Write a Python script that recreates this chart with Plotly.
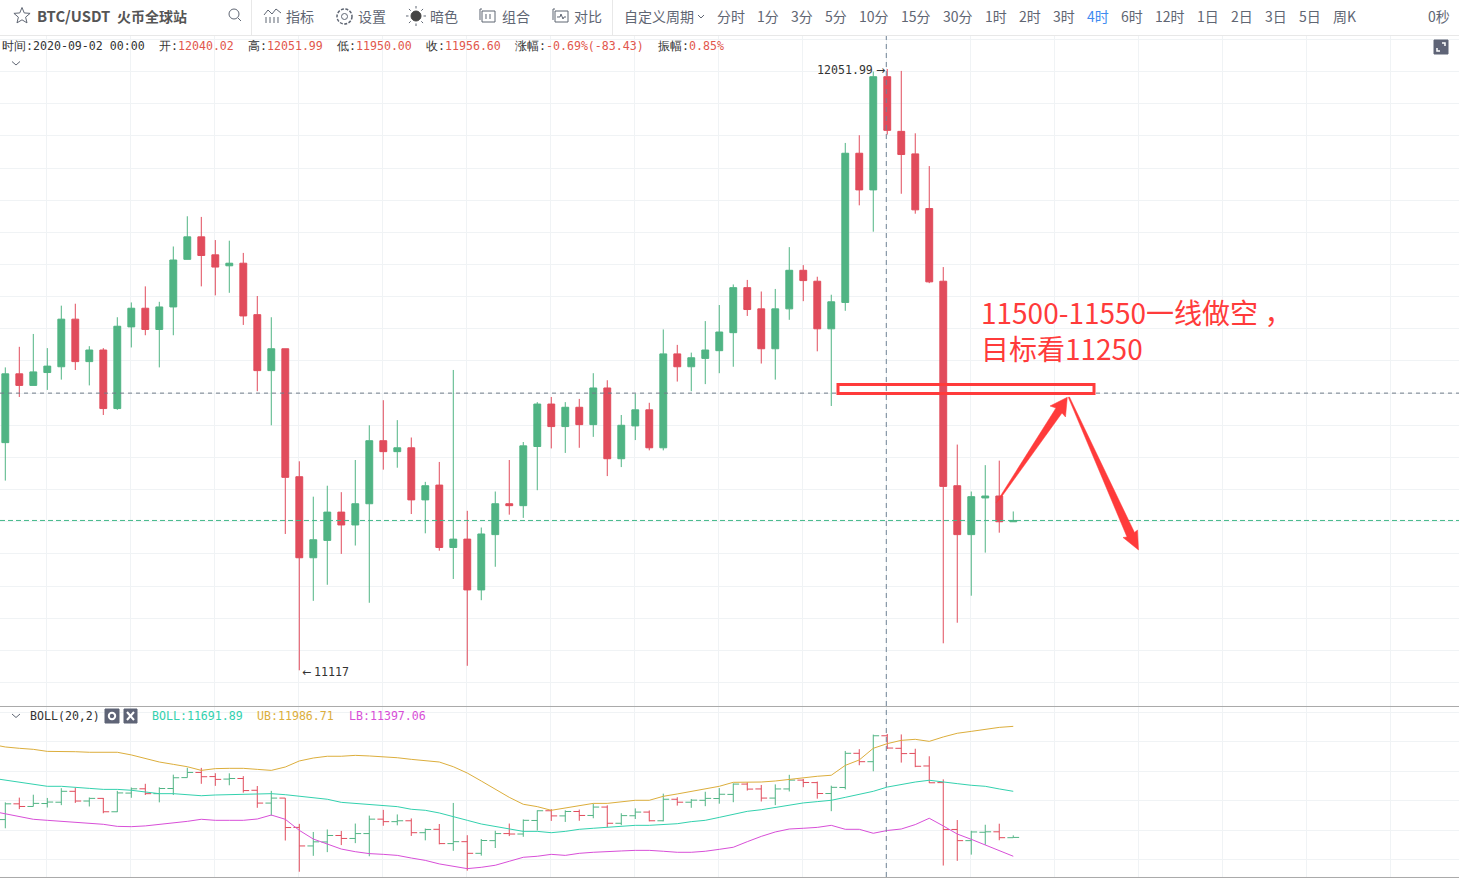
import math
import plotly.graph_objects as go
from plotly.subplots import make_subplots

W, H = 1459, 879

# candles, 4h bars
candle_idx = list(range(73))
opens = [11471, 11578, 11560, 11580, 11589, 11663, 11597, 11615, 11524, 11651, 11680, 11647, 11682, 11756, 11791, 11763, 11746, 11750, 11670, 11583,
         11617, 11418, 11292, 11319, 11363, 11343, 11376, 11474, 11457, 11463, 11382, 11405, 11308, 11321, 11242, 11328, 11376, 11373, 11465, 11531,
         11496, 11526, 11499, 11556, 11446, 11497, 11522, 11463, 11609, 11589, 11602, 11614, 11642, 11712, 11679, 11617, 11679, 11739, 11722, 11648,
         11689, 11921, 11864, 12040.02, 11955, 11920, 11835, 11722, 11404, 11328, 11385, 11388, 11348]
highs = [11588, 11620, 11640, 11618, 11684, 11687, 11621, 11618, 11666, 11689, 11714, 11690, 11776, 11823, 11822, 11786, 11785, 11766, 11699, 11666,
         11617, 11442, 11387, 11404, 11394, 11444, 11498, 11537, 11506, 11479, 11410, 11441, 11584, 11365, 11339, 11395, 11444, 11472, 11534, 11542,
         11534, 11539, 11579, 11568, 11514, 11547, 11533, 11647, 11623, 11611, 11660, 11685, 11717, 11724, 11706, 11710, 11775, 11747, 11729, 11701,
         11937, 11949, 12048, 12051.99, 12049, 11952, 11901, 11744, 11468, 11395, 11436, 11443, 11364]
lows = [11412, 11542, 11560, 11553, 11569, 11584, 11560, 11514, 11522, 11619, 11638, 11588, 11638, 11756, 11714, 11700, 11704, 11654, 11551, 11498,
        11329, 11117, 11225, 11250, 11298, 11311, 11222, 11429, 11432, 11360, 11330, 11303, 11259, 11124, 11226, 11278, 11359, 11354, 11397, 11462,
        11455, 11463, 11480, 11419, 11433, 11475, 11459, 11459, 11566, 11551, 11562, 11579, 11589, 11668, 11594, 11569, 11662, 11691, 11613, 11528,
        11676, 11840, 11799, 11950, 11858, 11827, 11719, 11159, 11191, 11233, 11300, 11331, 11348]
closes = [11578, 11560, 11581, 11590, 11663, 11597, 11615, 11524, 11652, 11680, 11647, 11682, 11755, 11791, 11762, 11744, 11750, 11668, 11583, 11617,
          11417, 11292, 11320, 11363, 11343, 11376, 11474, 11457, 11463, 11382, 11404, 11308, 11321, 11242, 11329, 11376, 11373, 11466, 11531, 11496,
          11526, 11499, 11556, 11446, 11498, 11522, 11463, 11609, 11589, 11603, 11615, 11643, 11712, 11678, 11617, 11679, 11739, 11723, 11648, 11690,
          11921, 11864, 12040, 11956.6, 11919, 11833, 11721, 11403, 11328, 11387, 11388, 11348, 11350]

# BOLL(20,2), these start one bar left of the window
boll_idx = list(range(-1, 73))
boll_mid = [11753, 11738, 11724, 11710, 11697, 11697, 11692, 11683, 11676, 11676, 11670, 11658, 11647, 11647, 11640, 11633, 11638, 11640, 11640, 11642, 11647,
            11640, 11629, 11618, 11609, 11588, 11581, 11572, 11566, 11559, 11541, 11534, 11516, 11493, 11466, 11441, 11425, 11405, 11391, 11391, 11382,
            11391, 11405, 11412, 11418, 11425, 11432, 11432, 11437, 11443, 11457, 11466, 11486, 11509, 11527, 11538, 11554, 11570, 11584, 11593, 11602,
            11622, 11642, 11663, 11691.89, 11710, 11726, 11738, 11724, 11715, 11704, 11697, 11679, 11663]
boll_up = [11982, 11964, 11955, 11948, 11934, 11934, 11932, 11928, 11928, 11928, 11910, 11885, 11862, 11846, 11830, 11805, 11817, 11819, 11819, 11812, 11805,
           11828, 11869, 11889, 11901, 11901, 11907, 11903, 11898, 11891, 11880, 11873, 11862, 11830, 11787, 11733, 11679, 11622, 11575, 11559, 11534,
           11550, 11563, 11581, 11581, 11593, 11602, 11602, 11629, 11645, 11663, 11681, 11697, 11724, 11724, 11726, 11733, 11744, 11758, 11765, 11772,
           11839, 11876, 11955, 11986.71, 12009, 12016, 12002, 12032, 12057, 12070, 12084, 12097, 12104]
boll_low = [11529, 11511, 11493, 11473, 11466, 11459, 11455, 11448, 11439, 11425, 11423, 11428, 11437, 11450, 11459, 11473, 11466, 11466, 11466, 11475, 11502,
            11473, 11398, 11339, 11305, 11271, 11253, 11240, 11235, 11228, 11210, 11194, 11170, 11154, 11138, 11147, 11161, 11188, 11215, 11222, 11235,
            11228, 11242, 11249, 11251, 11258, 11262, 11262, 11256, 11249, 11249, 11256, 11269, 11283, 11321, 11357, 11387, 11407, 11412, 11418, 11432,
            11405, 11405, 11378, 11397.06, 11407, 11437, 11480, 11428, 11373, 11337, 11298, 11260, 11222]

resistance_price = 11548
last_price = 11350
cross_idx = 62.93

toolbar_items = [("指标", 286), ("设置", 358), ("暗色", 430), ("组合", 502), ("对比", 574), ("自定义周期", 624)]
period_items = [("分时", 717), ("1分", 757), ("3分", 791), ("5分", 825), ("10分", 859), ("15分", 901), ("30分", 943), ("1时", 985), ("2时", 1019),
                ("3时", 1053), ("4时", 1087), ("6时", 1121), ("12时", 1155), ("1日", 1197), ("2日", 1231), ("3日", 1265), ("5日", 1299), ("周K", 1333), ("0秒", 1428)]
info_items = [("时间:", "2020-09-02 00:00", 2, "#333333"), ("开:", "12040.02", 159, "#e2574c"), ("高:", "12051.99", 248, "#e2574c"),
              ("低:", "11950.00", 337, "#e2574c"), ("收:", "11956.60", 426, "#e2574c"), ("涨幅:", "-0.69%(-83.43)", 515, "#e2574c"),
              ("振幅:", "0.85%", 658, "#e2574c")]

GREEN = "#50b484"
RED = "#e14c5c"
UI_GREY = "#5f6673"
ICON_BOX = "#5f6477"
MARK_RED = "#ff3b3b"
MONO = "DejaVu Sans Mono"
CJK = "Noto Sans CJK SC"


def px(x):
    return x / W


def py(y):
    return 1 - y / H


def path_shape(points, closed=False, fill=None, color=UI_GREY, width=1):
    d = "M " + " L ".join(f"{px(x):.5f},{py(y):.5f}" for x, y in points)
    if closed:
        d += " Z"
    return dict(type="path", xref="paper", yref="paper", path=d, fillcolor=fill,
                line=dict(color=color, width=width), layer="above")


def rect_shape(x0, y0, x1, y1, fill=None, color=UI_GREY, width=1):
    return dict(type="rect", xref="paper", yref="paper", x0=px(x0), x1=px(x1), y0=py(y0), y1=py(y1),
                fillcolor=fill, line=dict(color=color, width=width), layer="above")


def circle_shape(cx, cy, r, fill=None, color=UI_GREY, width=1, dash=None):
    return dict(type="circle", xref="paper", yref="paper", x0=px(cx - r), x1=px(cx + r), y0=py(cy + r), y1=py(cy - r),
                fillcolor=fill, line=dict(color=color, width=width, dash=dash), layer="above")


def label(x, y, text, size=14, color=UI_GREY, family=CJK, anchor="left"):
    return dict(xref="paper", yref="paper", x=px(x), y=py(y), text=text, showarrow=False, xanchor=anchor, yanchor="middle",
                font=dict(size=size, color=color, family=family), borderpad=0, borderwidth=0, align="left")


fig = make_subplots(rows=2, cols=1, shared_xaxes=True, vertical_spacing=0)

fig.add_trace(go.Candlestick(x=candle_idx, open=opens, high=highs, low=lows, close=closes, whiskerwidth=0,
                             increasing=dict(line=dict(color=GREEN, width=1), fillcolor=GREEN),
                             decreasing=dict(line=dict(color=RED, width=1), fillcolor=RED)), row=1, col=1)
fig.add_trace(go.Ohlc(x=candle_idx, open=opens, high=highs, low=lows, close=closes, tickwidth=0.42,
                      increasing=dict(line=dict(color=GREEN, width=1)),
                      decreasing=dict(line=dict(color=RED, width=1))), row=2, col=1)
for vals, col in [(boll_up, "#dcae3c"), (boll_mid, "#33d1ae"), (boll_low, "#d84fd8")]:
    fig.add_trace(go.Scatter(x=boll_idx, y=vals, mode="lines", line=dict(color=col, width=1)), row=2, col=1)

GRID = "#f0f3f5"
x_range = [-0.379, 103.84]
fig.update_xaxes(range=x_range, tick0=2.95, dtick=6, showgrid=True, gridcolor=GRID, gridwidth=1, zeroline=False,
                 showticklabels=False, ticks="", showline=False, rangeslider_visible=False)
fig.update_layout(
    xaxis=dict(domain=[0, 1]), xaxis2=dict(domain=[0, 1]),
    yaxis=dict(domain=[py(706), py(36)], range=[11061.5, 12103.3], tick0=12048, dtick=50),
    yaxis2=dict(domain=[py(877), py(707)], range=[11081.2, 12235.4], tick0=12000, dtick=200),
)
fig.update_yaxes(showgrid=True, gridcolor=GRID, gridwidth=1, zeroline=False, showticklabels=False, ticks="", showline=False)

shapes = []
# reference lines, drawn on the price axis
shapes.append(dict(type="line", xref="paper", yref="y", x0=0, x1=1, y0=resistance_price, y1=resistance_price,
                   line=dict(color="#6f7b88", width=1, dash="4px,4px"), layer="above"))
shapes.append(dict(type="line", xref="paper", yref="y", x0=0, x1=1, y0=last_price, y1=last_price,
                   line=dict(color="#44b98a", width=1, dash="5px,3px"), layer="above"))
# crosshair through both panels
shapes.append(dict(type="line", xref="x", yref="paper", x0=cross_idx, x1=cross_idx, y0=py(877), y1=py(36),
                   line=dict(color="#6f8296", width=1, dash="5px,4px"), layer="above"))
# panel and header rules
shapes.append(path_shape([(0, 35.5), (W, 35.5)], color="#e8e8e8"))
shapes.append(path_shape([(0, 706.5), (W, 706.5)], color="#a9a9a9"))
shapes.append(path_shape([(0, 877.5), (W, 877.5)], color="#a9a9a9"))
shapes.append(path_shape([(251.5, 0), (251.5, 35)], color="#e8e8e8"))
shapes.append(path_shape([(612.5, 0), (612.5, 35)], color="#e8e8e8"))

# hand drawn trade marks
shapes.append(rect_shape(838, 384.5, 1094, 393.5, color=MARK_RED, width=3))
shapes.append(path_shape([(996, 503), (1056, 408), (1050, 406), (1067.3, 397.3), (1065.5, 417), (1062, 413), (1000, 499)],
                         closed=True, fill=MARK_RED, color=MARK_RED, width=0.5))
shapes.append(path_shape([(1068.3, 397.3), (1127, 537), (1123, 537.5), (1138.5, 550), (1137.5, 530), (1134.5, 532.5), (1069.5, 397)],
                         closed=True, fill=MARK_RED, color=MARK_RED, width=0.5))

# toolbar icons
star = []
for k in range(10):
    r = 8.5 if k % 2 == 0 else 3.8
    a = -math.pi / 2 + k * math.pi / 5
    star.append((22 + r * math.cos(a), 16 + r * math.sin(a)))
shapes.append(path_shape(star, closed=True))
shapes.append(circle_shape(234, 14, 5))
shapes.append(path_shape([(238, 18), (241, 21)]))
shapes.append(path_shape([(264, 15), (268, 10), (272, 14), (276, 9), (281, 13)]))
for bx in (266, 270, 274, 278):
    shapes.append(path_shape([(bx, 17), (bx, 23)]))
shapes.append(circle_shape(344.5, 16.5, 3))
shapes.append(circle_shape(344.5, 16.5, 7.5, width=1.5, dash="3px,1.5px"))
shapes.append(circle_shape(416, 16, 5, fill="#444444", color="#444444"))
for k in range(8):
    a = k * math.pi / 4
    shapes.append(path_shape([(416 + 7.5 * math.cos(a), 16 + 7.5 * math.sin(a)), (416 + 10 * math.cos(a), 16 + 10 * math.sin(a))]))
shapes.append(rect_shape(482, 11, 495, 22))
shapes.append(path_shape([(482, 9), (480, 9), (480, 20)]))
shapes.append(path_shape([(486, 14), (486, 19)]))
shapes.append(path_shape([(490, 14), (490, 19)]))
shapes.append(rect_shape(555, 11, 568, 22))
shapes.append(path_shape([(555, 9), (553, 9), (553, 20)]))
shapes.append(path_shape([(557, 17), (560, 17), (561, 14), (563, 19), (564, 17), (566, 17)]))
shapes.append(path_shape([(698, 15), (701, 18), (704, 15)]))
# chevrons
shapes.append(path_shape([(12, 61.5), (16, 65), (20, 61.5)]))
shapes.append(path_shape([(12, 714), (16, 717.5), (20, 714)]))
# expand button
shapes.append(rect_shape(1434, 40, 1448, 54, fill=ICON_BOX, color=ICON_BOX))
shapes.append(path_shape([(1442, 43), (1445, 43), (1445, 46)], color="white", width=1.5))
shapes.append(path_shape([(1437, 48), (1437, 51), (1440, 51)], color="white", width=1.5))
# BOLL setting and close buttons
shapes.append(rect_shape(105, 709, 119, 723, fill=ICON_BOX, color=ICON_BOX))
shapes.append(circle_shape(112, 716, 3.2, color="white", width=2))
shapes.append(rect_shape(124, 709, 137, 723, fill=ICON_BOX, color=ICON_BOX))
shapes.append(path_shape([(127, 712), (134, 720)], color="white", width=2))
shapes.append(path_shape([(134, 712), (127, 720)], color="white", width=2))

notes = [label(37, 16, "<b>BTC/USDT</b>", size=14.8, color="#555555"), label(117, 16, "<b>火币全球站</b>", size=14, color="#555555")]
for text, x in toolbar_items:
    notes.append(label(x, 16, text, size=14))
for text, x in period_items:
    notes.append(label(x, 16, text, size=14, color="#3e8bf0" if text == "4时" else UI_GREY))
for name, value, x, col in info_items:
    notes.append(label(x, 46, f'<span style="color:#333333">{name}</span><span style="color:{col}">{value}</span>', size=11.6, family=MONO))
notes.append(label(873, 70, "12051.99", size=11.6, color="#333333", family=MONO, anchor="right"))
notes.append(label(876, 70, "→", size=11, color="#333333", family="DejaVu Sans"))
notes.append(label(302, 672, "←", size=11, color="#333333", family="DejaVu Sans"))
notes.append(label(314, 672, "11117", size=11.6, color="#333333", family=MONO))
notes.append(label(30, 716, "BOLL(20,2)", size=11.6, color="#333333", family=MONO))
notes.append(label(152, 716, "BOLL:11691.89", size=11.6, color="#33d1ae", family=MONO))
notes.append(label(257, 716, "UB:11986.71", size=11.6, color="#dcae3c", family=MONO))
notes.append(label(349, 716, "LB:11397.06", size=11.6, color="#d84fd8", family=MONO))
notes.append(label(981, 330, "11500-11550一线做空 ，<br>目标看11250", size=28, color=MARK_RED))

fig.update_layout(width=W, height=H, margin=dict(l=0, r=0, t=0, b=0), paper_bgcolor="white", plot_bgcolor="white",
                  showlegend=False, boxgap=0.3, shapes=shapes, annotations=notes)

fig.write_html("out.html", config=dict(displayModeBar=False),
               post_script="document.body.style.margin='0';document.body.style.overflow='hidden';")
